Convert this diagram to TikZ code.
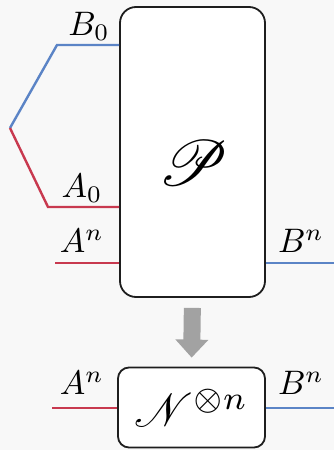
\documentclass[tikz,border=0pt]{standalone}
\usepackage{graphicx}
\usepackage{amsmath,amssymb,mathrsfs}
\usepackage{xcolor}
\definecolor{Ink}{HTML}{1E1E1E}
\definecolor{Paper}{HTML}{F8F8F8}
\definecolor{WireBlue}{HTML}{5B84C6}
\definecolor{WireRed}{HTML}{C8394F}
\definecolor{ArrowGray}{HTML}{A2A2A2}
\usetikzlibrary{arrows.meta, positioning, calc}

\begin{document}
\begin{tikzpicture}[x=1pt, y=1pt,
  chan/.style={rectangle, rounded corners=16pt, draw=Ink, line width=1.8pt,
               fill=white, inner sep=0pt},
  wire/.style={line width=2.4pt},
  lbl/.style={inner sep=0pt},
  flow/.style={line width=17pt, color=ArrowGray,
               -{Triangle[width=32pt, length=18pt]}, shorten <=10pt, shorten >=9pt}
]

%% ---- Canvas ----
\fill[Paper] (0,0) rectangle (334,450);
\useasboundingbox (0,0) rectangle (334,450);

%% ---- Superchannel (top) ----
\node[chan, minimum width=145pt, minimum height=290pt] (P) at (192.5,298) {};
\node[lbl] (Ptext) at (193,287) {\scalebox{6.4}{$\mathscr{P}$}};

%% ---- Channel (bottom) ----
\node[chan, rounded corners=11pt, minimum width=147pt, minimum height=80pt] (N) at (191.5,42.5)
  {\scalebox{4.7}{$\mathscr{N}^{\otimes n}$}};

%% ---- Free ends of the wires ----
\coordinate (bzero) at (57,405);
\coordinate (fork)  at (10,322);
\coordinate (azero) at (48,243);
\coordinate (ainP)  at (55,187);
\coordinate (boutP) at (334,187);
\coordinate (ainN)  at (52,42);
\coordinate (boutN) at (334,42);

%% ---- Wires ----
\draw[wire, WireBlue] (P.west |- bzero) -- (bzero) -- (fork);
\draw[wire, WireRed]  (fork) -- (azero) -- (P.west |- azero);
\draw[wire, WireRed]  (ainP) -- (P.west |- ainP);
\draw[wire, WireBlue] (P.east |- boutP) -- (boutP);
\draw[wire, WireRed]  (ainN) -- (N.west |- ainN);
\draw[wire, WireBlue] (N.east |- boutN) -- (boutN);

%% ---- Labels ----
\node[lbl] (lbzero) at (89,424) {\scalebox{3.4}{$B_0$}};
\node[lbl] (lazero) at (82,262) {\scalebox{3.4}{$A_0$}};
\node[lbl] (lainP)  at (82,209) {\scalebox{3.4}{$A^n$}};
\node[lbl] (lboutP) at (301,209) {\scalebox{3.4}{$B^n$}};
\node[lbl] (lainN)  at (82,67)  {\scalebox{3.4}{$A^n$}};
\node[lbl] (lboutN) at (301,67) {\scalebox{3.4}{$B^n$}};

%% ---- Reduction arrow ----
\draw[flow] (P.south) -- (N.north);

\end{tikzpicture}
\end{document}
